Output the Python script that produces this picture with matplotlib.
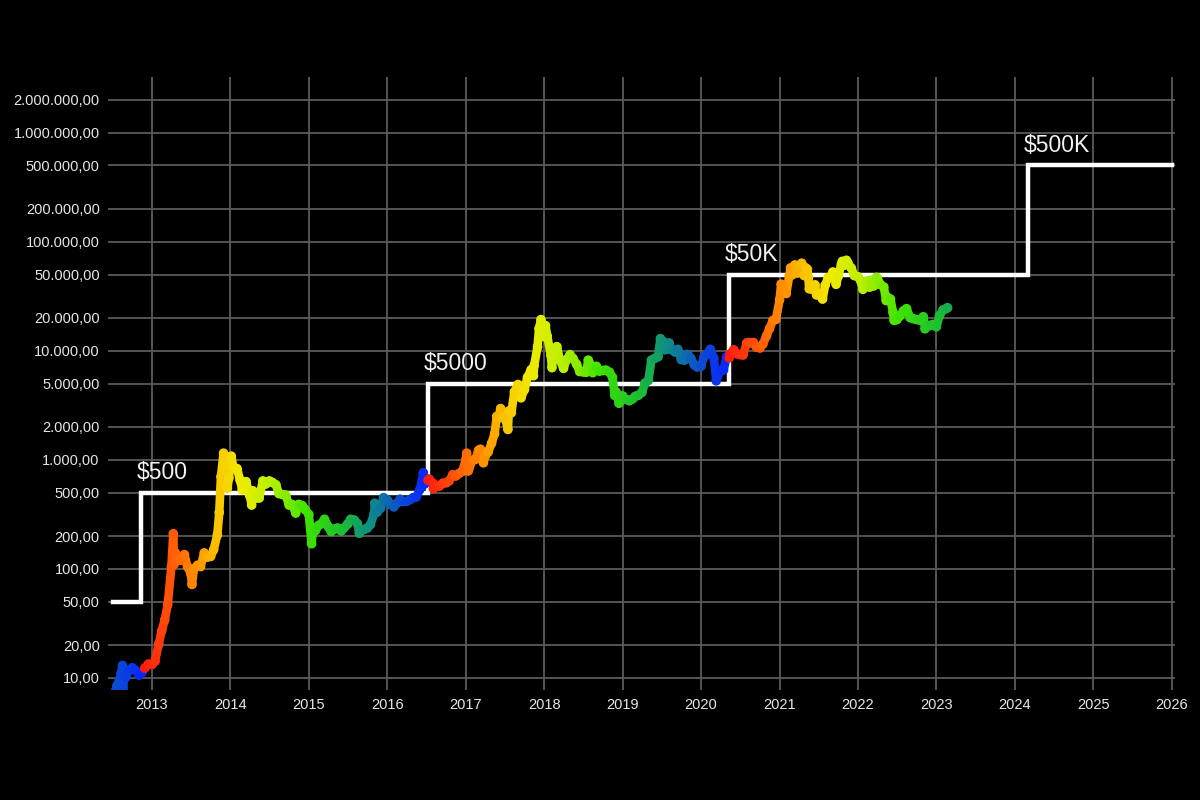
import matplotlib
matplotlib.use("Agg")
import matplotlib.pyplot as plt
import matplotlib.dates as mdates
from matplotlib.collections import LineCollection
from matplotlib.colors import LinearSegmentedColormap
from matplotlib.ticker import FixedLocator, FuncFormatter
import numpy as np
import pandas as pd

# BTC price (roughly twice a month, plus the big swings)
days_2012 = ['07-01', '07-08', '07-15', '07-22', '08-01', '08-10', '08-16', '08-19', '08-25',
             '09-01', '09-15', '10-01', '10-15', '11-01', '11-15', '11-28', '12-15']
price_2012 = [6.7, 6.8, 7.6, 8.5, 9.4, 11.0, 13.0, 8.0, 10.5, 10.1, 11.8, 12.4, 11.8, 10.6, 11.2, 12.3, 13.4]

days_2013 = ['01-01', '01-15', '02-01', '02-15', '03-01', '03-15', '04-01', '04-10', '04-14', '04-20',
             '05-01', '05-15', '06-01', '06-15', '07-01', '07-06', '07-15', '08-01', '08-15', '09-01',
             '09-15', '10-01', '10-15', '11-01', '11-10', '11-18', '11-30', '12-07', '12-15', '12-18', '12-25']
price_2013 = [13.3, 14.2, 20.4, 27.0, 34.0, 47.0, 104, 210, 110, 140,
              125, 120, 135, 105, 90, 72, 100, 108, 105, 140,
              128, 130, 150, 205, 330, 700, 1150, 800, 880, 550, 680]

days_2014 = ['01-05', '01-15', '02-01', '02-15', '02-25', '03-01', '03-15', '04-01', '04-10', '04-15',
             '05-01', '05-15', '06-01', '06-15', '07-01', '07-15', '08-01', '08-15', '09-01', '09-15',
             '10-01', '10-15', '11-01', '11-15', '12-01', '12-15']
price_2014 = [1080, 850, 830, 650, 530, 560, 630, 470, 385, 520,
              450, 450, 640, 600, 640, 620, 590, 490, 480, 475,
              385, 390, 325, 390, 380, 350]

days_2015 = ['01-01', '01-14', '01-18', '02-01', '02-15', '03-01', '03-15', '04-01', '04-15', '05-01',
             '05-15', '06-01', '06-15', '07-01', '07-15', '08-01', '08-15', '08-24', '09-01', '09-15',
             '10-01', '10-15', '11-01', '11-04', '11-15', '12-01', '12-15']
price_2015 = [315, 170, 210, 225, 250, 260, 285, 245, 220, 232,
              237, 223, 238, 258, 285, 280, 260, 212, 230, 230,
              237, 255, 320, 400, 330, 360, 450]

days_2016 = ['01-01', '01-15', '02-01', '02-15', '03-01', '03-15', '04-01', '04-15', '05-01', '05-15',
             '06-01', '06-17', '06-23', '07-01', '07-09', '07-15', '08-01', '08-03', '08-15', '09-01',
             '09-15', '10-01', '10-15', '11-01', '11-15', '12-01', '12-15']
price_2016 = [430, 390, 370, 400, 435, 415, 417, 430, 450, 455,
              535, 760, 600, 670, 650, 665, 610, 545, 570, 575,
              610, 615, 640, 730, 710, 750, 780]

days_2017 = ['01-01', '01-05', '01-12', '01-15', '02-01', '02-15', '03-01', '03-10', '03-24', '04-01',
             '04-15', '05-01', '05-15', '05-25', '06-01', '06-12', '06-15', '07-01', '07-16', '07-20',
             '08-01', '08-15', '09-01', '09-15', '10-01', '10-15', '11-01', '11-12', '11-15', '12-01',
             '12-08', '12-17', '12-22']
price_2017 = [1000, 1150, 790, 820, 990, 1010, 1220, 1250, 940, 1080,
              1180, 1420, 1730, 2500, 2400, 2950, 2450, 2500, 1900, 2800,
              2700, 4200, 4900, 3700, 4400, 5700, 6700, 5900, 7300, 10900,
              16000, 19300, 13800]

days_2018 = ['01-01', '01-07', '01-15', '02-01', '02-06', '02-15', '03-01', '03-15', '04-01', '04-15',
             '05-01', '05-15', '06-01', '06-15', '07-01', '07-15', '07-25', '08-01', '08-15', '09-01',
             '09-15', '10-01', '10-15', '11-01', '11-15', '11-25', '12-01', '12-15', '12-25']
price_2018 = [13500, 17000, 13600, 9100, 7000, 10200, 10900, 8200, 6900, 8300,
              9200, 8500, 7500, 6450, 6400, 6350, 8200, 7600, 6300, 7200,
              6500, 6600, 6650, 6350, 5700, 3900, 4200, 3300, 3800]

days_2019 = ['01-01', '01-15', '02-01', '02-15', '03-01', '03-15', '04-01', '04-15', '05-01', '05-15',
             '06-01', '06-15', '06-26', '07-01', '07-10', '07-15', '08-01', '08-06', '08-15', '09-01',
             '09-15', '10-01', '10-15', '10-26', '11-01', '11-15', '12-01', '12-15']
price_2019 = [3850, 3600, 3480, 3600, 3820, 3900, 4150, 5050, 5350, 8200,
              8550, 8800, 12900, 10600, 12100, 10200, 10400, 11800, 10300, 9750,
              10300, 8300, 8200, 9250, 9200, 8500, 7400, 7100]

days_2020 = ['01-01', '01-15', '02-01', '02-13', '03-01', '03-12', '03-15', '04-01', '04-15', '04-29',
             '05-11', '05-15', '06-01', '06-15', '07-01', '07-15', '08-01', '08-15', '09-01', '09-15',
             '10-01', '10-15', '11-01', '11-15', '12-01', '12-15']
price_2020 = [7200, 8800, 9400, 10300, 8550, 5300, 5600, 6600, 6650, 8800,
              8600, 9300, 10200, 9400, 9200, 9150, 11800, 11900, 11900, 10800,
              10600, 11500, 13700, 16000, 19000, 19400]

days_2021 = ['01-01', '01-08', '01-15', '02-01', '02-15', '02-21', '03-01', '03-13', '03-25', '04-01',
             '04-14', '04-25', '05-01', '05-10', '05-15', '05-19', '06-01', '06-15', '06-22', '07-01',
             '07-20', '08-01', '08-15', '09-01', '09-06', '09-21', '10-01', '10-15', '10-20', '11-01',
             '11-08', '11-15', '12-01', '12-15']
price_2021 = [29400, 40800, 36800, 33500, 48700, 57500, 49600, 61200, 51700, 59000,
              63500, 49000, 57800, 56000, 46400, 37000, 36700, 40200, 32500, 33500,
              29800, 39900, 47000, 48800, 52700, 40700, 48200, 61500, 66000, 61000,
              67500, 63800, 57200, 48900]

days_2022 = ['01-01', '01-15', '01-24', '02-01', '02-10', '02-24', '03-01', '03-15', '03-28', '04-01',
             '04-15', '05-01', '05-12', '05-15', '06-01', '06-13', '06-18', '07-01', '07-15', '08-01',
             '08-15', '09-01', '09-15', '10-01', '10-15', '11-01', '11-09', '11-15', '12-01', '12-15']
price_2022 = [47700, 43100, 36600, 38700, 43500, 38300, 44400, 39300, 47100, 46300,
              40500, 38500, 28900, 31300, 29800, 22500, 19000, 19300, 20800, 23300,
              24300, 20100, 19700, 19300, 19100, 20500, 15900, 16900, 17000, 17400]

days_2023 = ['01-01', '01-15', '02-01', '02-15', '02-22']
price_2023 = [16600, 20900, 23700, 24300, 24800]

# halving steps
cycle_starts = ['2009-01-03', '2012-11-28', '2016-07-09', '2020-05-11', '2024-03-03']
step_dates = ['2012-07-01', '2012-11-12', '2016-07-09', '2020-05-11', '2024-03-03', '2026-01-01']
step_levels = [50, 500, 5000, 50000, 500000]
step_labels = ['$500', '$5000', '$50K', '$500K']

y_ticks = [10, 20, 50, 100, 200, 500, 1000, 2000, 5000, 10000, 20000, 50000,
           100000, 200000, 500000, 1000000, 2000000]

years = {2012: (days_2012, price_2012), 2013: (days_2013, price_2013), 2014: (days_2014, price_2014),
         2015: (days_2015, price_2015), 2016: (days_2016, price_2016), 2017: (days_2017, price_2017),
         2018: (days_2018, price_2018), 2019: (days_2019, price_2019), 2020: (days_2020, price_2020),
         2021: (days_2021, price_2021), 2022: (days_2022, price_2022), 2023: (days_2023, price_2023)}
dates, prices = [], []
for yr, (dd, pp) in years.items():
    dates += [f'{yr}-{d}' for d in dd]
    prices += pp
dates = pd.to_datetime(dates)
prices = np.array(prices, dtype=float)
xnum = mdates.date2num(dates)

# colour = position inside the halving cycle
starts = mdates.date2num(pd.to_datetime(cycle_starts))
def phase(x):
    i = np.searchsorted(starts, x, side='right') - 1
    return (x - starts[i]) / (starts[i + 1] - starts[i])

cmap = LinearSegmentedColormap.from_list('cycle', [
    (0.0, '#ff1a10'), (0.09, '#ff5508'), (0.18, '#ff9000'), (0.27, '#f8cc00'),
    (0.34, '#f0ec00'), (0.45, '#b8f000'), (0.57, '#40e400'), (0.70, '#1cc030'),
    (0.80, '#0e8c86'), (0.90, '#0a52cc'), (1.0, '#0824ff')])

fig = plt.figure(figsize=(12, 8), dpi=100, facecolor='black')
ax = fig.add_axes([0.09, 0.1375, 0.889, 0.7665])
ax.set_facecolor('black')
ax.set_yscale('log')

# steps
sx = pd.to_datetime(step_dates)
ax.step(sx, step_levels + [step_levels[-1]], where='post', color='white', lw=3.2, zorder=3,
        solid_joinstyle='miter')
for d, lev, lab in zip(sx[1:], step_levels[1:], step_labels):
    ax.annotate(lab, xy=(d, lev), xytext=(-3, 6), textcoords='offset points',
                ha='left', va='bottom', color='#f2f2f2', fontsize=16.5,
                family='Liberation Sans', zorder=5)

# price trail
segs = [[(xnum[i], prices[i]), (xnum[i + 1], prices[i + 1])] for i in range(len(xnum) - 1)]
mid = (xnum[:-1] + xnum[1:]) / 2
lc = LineCollection(segs, colors=cmap(phase(mid)), linewidths=6.2, capstyle='round', zorder=4)
ax.add_collection(lc)
ax.scatter(dates, prices, c=cmap(phase(xnum)), s=48, edgecolors='none', zorder=4)

ax.set_xlim(pd.Timestamp('2012-06-10'), pd.Timestamp('2026-01-15'))
ax.set_ylim(7.75, 3.25e6)

ax.yaxis.set_major_locator(FixedLocator(y_ticks))
ax.yaxis.set_minor_locator(FixedLocator([]))
ax.yaxis.set_major_formatter(FuncFormatter(
    lambda v, p: f'{v:,.2f}'.replace(',', 'X').replace('.', ',').replace('X', '.')))
ax.xaxis.set_major_locator(mdates.YearLocator())
ax.xaxis.set_major_formatter(mdates.DateFormatter('%Y'))

ax.grid(True, color='#5a5a5a', lw=1.3, zorder=0)
ax.set_axisbelow(True)
for s in ax.spines.values():
    s.set_visible(False)
ax.tick_params(length=0, colors='#e6e6e6', labelsize=10.5, pad=6)
for t in ax.get_xticklabels() + ax.get_yticklabels():
    t.set_family('Liberation Sans')

fig.savefig('out.png', dpi=100, facecolor='black')
